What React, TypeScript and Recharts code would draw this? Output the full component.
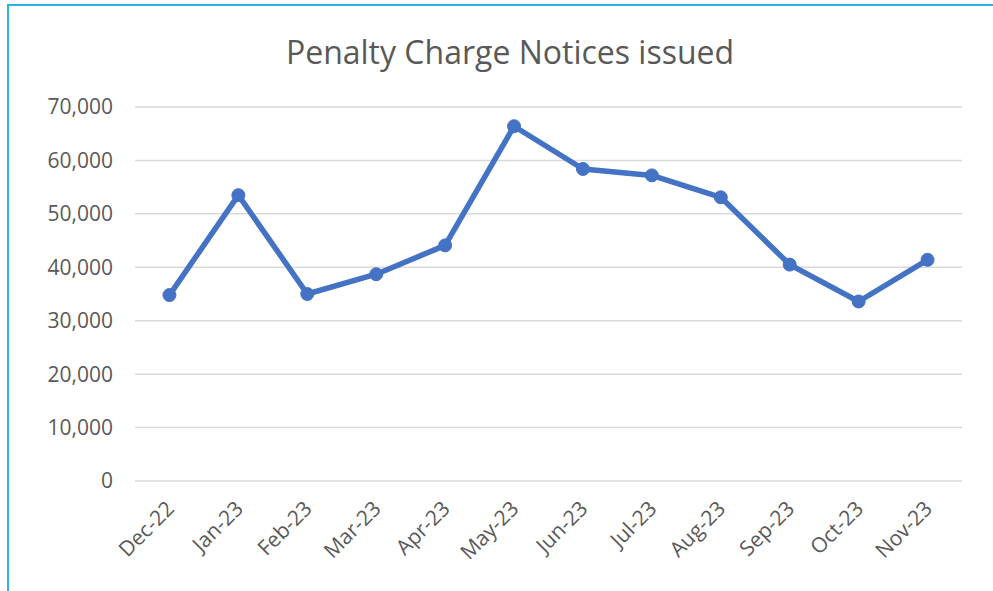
import React from 'react';
import { LineChart, Line, XAxis, YAxis, CartesianGrid } from 'recharts';

const months = ['Dec-22', 'Jan-23', 'Feb-23', 'Mar-23', 'Apr-23', 'May-23', 'Jun-23', 'Jul-23', 'Aug-23', 'Sep-23', 'Oct-23', 'Nov-23'];
const notices = [34800, 53500, 35000, 38700, 44100, 66400, 58400, 57200, 53100, 40500, 33600, 41400];
const yTicks = [0, 10000, 20000, 30000, 40000, 50000, 60000, 70000];

const FONT = '"Open Sans", sans-serif';
const GREY = '#595959';
const GRID = '#d9d9d9';

// x positions: each month sits in the middle of its slot
const data = months.map((month, i) => ({ month, pos: i + 0.5, notices: notices[i] }));
const labelTicks = months.map((_, i) => i + 0.5);
const markTicks = months.map((_, i) => i).concat(months.length);

const MonthTick = (props: any) => {
  const { x, y, payload } = props;
  const label = months[Math.floor(payload.value)];
  const ax = x + 6;
  const ay = y + 21;
  return (
    <text
      x={ax}
      y={ay}
      transform={`rotate(-45, ${ax}, ${ay})`}
      textAnchor="end"
      fill={GREY}
      fontSize={21}
      fontFamily={FONT}
    >
      {label}
    </text>
  );
};

const App: React.FC = () => {
  return (
    <div style={{ position: 'absolute', left: 0, top: 0, width: 993, height: 591, overflow: 'hidden', background: '#fff' }}>
      <div
        style={{
          position: 'absolute',
          left: 7,
          top: 4,
          width: 1100,
          height: 700,
          border: '2px solid #29b3e3',
        }}
      />
      <div
        style={{
          position: 'absolute',
          left: 0,
          top: 30,
          width: 1020,
          textAlign: 'center',
          fontFamily: FONT,
          fontSize: 32,
          color: GREY,
          whiteSpace: 'nowrap',
        }}
      >
        Penalty Charge Notices issued
      </div>
      <div style={{ position: 'absolute', left: 0, top: 0 }}>
        <LineChart width={993} height={591} data={data} margin={{ top: 107, right: 31, bottom: 0, left: 0 }}>
          <CartesianGrid xAxisId="marks" vertical={false} stroke={GRID} strokeWidth={1.5} />
          <XAxis
            xAxisId="marks"
            dataKey="pos"
            type="number"
            domain={[0, months.length]}
            ticks={markTicks}
            height={0}
            tickSize={7}
            tickLine={{ stroke: GRID, strokeWidth: 1.5 }}
            axisLine={{ stroke: GRID, strokeWidth: 1.5 }}
            tick={() => <g />}
          />
          <XAxis
            xAxisId="labels"
            dataKey="pos"
            type="number"
            domain={[0, months.length]}
            ticks={labelTicks}
            height={110}
            axisLine={false}
            tickLine={false}
            tick={<MonthTick />}
            interval={0}
          />
          <YAxis
            width={135}
            domain={[0, 70000]}
            ticks={yTicks}
            axisLine={false}
            tickLine={false}
            tickMargin={16}
            tick={{ fill: GREY, fontSize: 21, fontFamily: FONT }}
            tickFormatter={(v: number) => v.toLocaleString('en-US')}
          />
          <Line
            xAxisId="labels"
            dataKey="notices"
            stroke="#4472c4"
            strokeWidth={5.5}
            strokeLinejoin="round"
            dot={{ r: 6.5, fill: '#4472c4', stroke: '#4472c4', strokeWidth: 1 }}
            isAnimationActive={false}
          />
        </LineChart>
      </div>
    </div>
  );
};

export default App;
